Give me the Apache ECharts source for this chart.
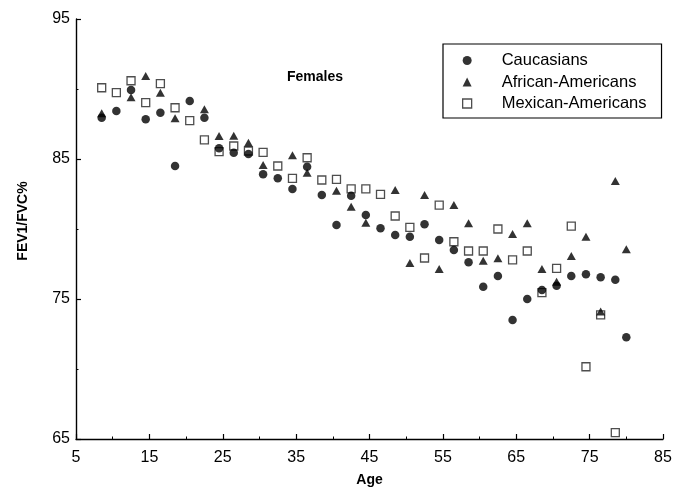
<!DOCTYPE html>
<html>
<head>
<meta charset="utf-8">
<script src="https://cdn.jsdelivr.net/npm/echarts@6/dist/echarts.min.js"></script>
<style>
  html, body { margin: 0; padding: 0; background: #fff; }
  #chart { width: 691px; height: 493px; }
</style>
</head>
<body>
<div id="chart"></div>
<script>
// Age group midpoints (years)
const ageBins = [8.5, 10.5, 12.5, 14.5, 16.5, 18.5, 20.5, 22.5, 24.5, 26.5, 28.5,
  30.5, 32.5, 34.5, 36.5, 38.5, 40.5, 42.5, 44.5, 46.5, 48.5, 50.5, 52.5, 54.5,
  56.5, 58.5, 60.5, 62.5, 64.5, 66.5, 68.5, 70.5, 72.5, 74.5, 76.5, 78.5, 80];

// Mean FEV1/FVC% per age group; null where a group has no point
const caucasians = [87.95, 88.43, 89.93, 87.84, 88.31, 84.5, 89.14, 87.95, 85.76, 85.45, 85.35,
  83.91, 83.62, 82.86, 84.45, 82.43, 80.29, 82.38, 81.0, 80.05, 79.57, 79.45, 80.34, 79.21,
  78.5, 77.62, 75.88, 76.64, 73.5, 75.0, 75.64, 75.95, 76.64, 76.76, 76.55, 76.38, 72.26];

const africanAmericans = [88.26, null, 89.41, 90.93, 89.74, 87.91, null, 88.55, 86.64, 86.66, 86.16,
  84.57, null, 85.26, 84.02, null, 82.74, 81.59, 80.45, null, 82.79, 77.57, 82.43, 77.14,
  81.71, 80.41, 77.74, 77.91, 79.64, 80.41, 77.14, 76.24, 78.07, 79.45, 74.1, 83.43, 78.55];

const mexicanAmericans = [90.09, 89.74, 90.59, 89.02, 90.38, 88.66, 87.74, 86.36, 85.52, 85.93, 85.57,
  85.48, 84.5, 83.62, 85.09, 83.5, 83.55, 82.86, 82.86, 82.48, 80.93, 80.12, 77.93, 81.71,
  79.09, 78.43, 78.43, 80.0, 77.79, 78.43, 75.45, 77.19, 80.21, 70.16, 73.86, 65.45, null];

function pairs(values) {
  const out = [];
  values.forEach((v, i) => { if (v !== null) out.push([ageBins[i], v]); });
  return out;
}

const FONT = '"Liberation Sans", Arial, Helvetica, sans-serif';
const INK = '#000';

const chart = echarts.init(document.getElementById('chart'), null, { renderer: 'canvas' });

const axisCommon = {
  axisLine: { show: true, onZero: false, lineStyle: { color: INK, width: 1.4 } },
  axisTick: { show: true, inside: true, length: 5, lineStyle: { color: INK, width: 1.2 } },
  minorTick: { show: true, splitNumber: 2, length: 2.5, lineStyle: { color: INK, width: 1 } },
  splitLine: { show: false },
  minorSplitLine: { show: false }
};

chart.setOption({
  animation: false,
  backgroundColor: '#fff',
  textStyle: { fontFamily: FONT, color: INK },
  title: {
    text: 'Females',
    left: 287,
    top: 70,
    padding: 0,
    textStyle: { fontFamily: FONT, fontSize: 14, fontWeight: 'bold', color: INK }
  },
  grid: { left: 76, right: 28, top: 19, bottom: 54 },
  legend: {
    orient: 'vertical',
    left: 443,
    top: 44,
    padding: [8, 15, 6, 19],
    itemGap: 4.5,
    itemWidth: 9,
    itemHeight: 9,
    borderColor: INK,
    borderWidth: 1.2,
    backgroundColor: '#fff',
    textStyle: { fontFamily: FONT, fontSize: 16.5, color: INK, lineHeight: 16, padding: [0, 0, 0, 25] },
    data: [
      { name: 'Caucasians', icon: 'circle', itemStyle: { color: INK } },
      { name: 'African-Americans', icon: 'triangle', itemStyle: { color: INK } },
      { name: 'Mexican-Americans', icon: 'rect',
        itemStyle: { color: '#fff', borderColor: '#222', borderWidth: 1.3 } }
    ]
  },
  xAxis: Object.assign({
    type: 'value',
    min: 5,
    max: 85,
    interval: 10,
    name: 'Age',
    nameLocation: 'middle',
    nameGap: 34,
    nameTextStyle: { fontFamily: FONT, fontSize: 14, fontWeight: 'bold', color: INK },
    axisLabel: { fontFamily: FONT, fontSize: 16, color: INK, margin: 11 }
  }, axisCommon),
  yAxis: Object.assign({
    type: 'value',
    min: 65,
    max: 95,
    interval: 10,
    name: 'FEV1/FVC%',
    nameLocation: 'middle',
    nameGap: 46,
    nameTextStyle: { fontFamily: FONT, fontSize: 14, fontWeight: 'bold', color: INK, padding: [0, 0, 0, 16] },
    axisLabel: { fontFamily: FONT, fontSize: 16, color: INK, margin: 6 }
  }, axisCommon),
  series: [
    {
      name: 'Mexican-Americans',
      type: 'scatter',
      symbol: 'rect',
      symbolSize: 8,
      itemStyle: { color: 'rgba(255,255,255,0)', borderColor: '#222', borderWidth: 1.3 },
      data: pairs(mexicanAmericans),
      z: 2
    },
    {
      name: 'African-Americans',
      type: 'scatter',
      symbol: 'triangle',
      symbolSize: [9, 8],
      itemStyle: { color: INK },
      data: pairs(africanAmericans),
      z: 3
    },
    {
      name: 'Caucasians',
      type: 'scatter',
      symbol: 'circle',
      symbolSize: 8.5,
      itemStyle: { color: INK },
      data: pairs(caucasians),
      z: 4
    }
  ]
});
</script>
</body>
</html>
